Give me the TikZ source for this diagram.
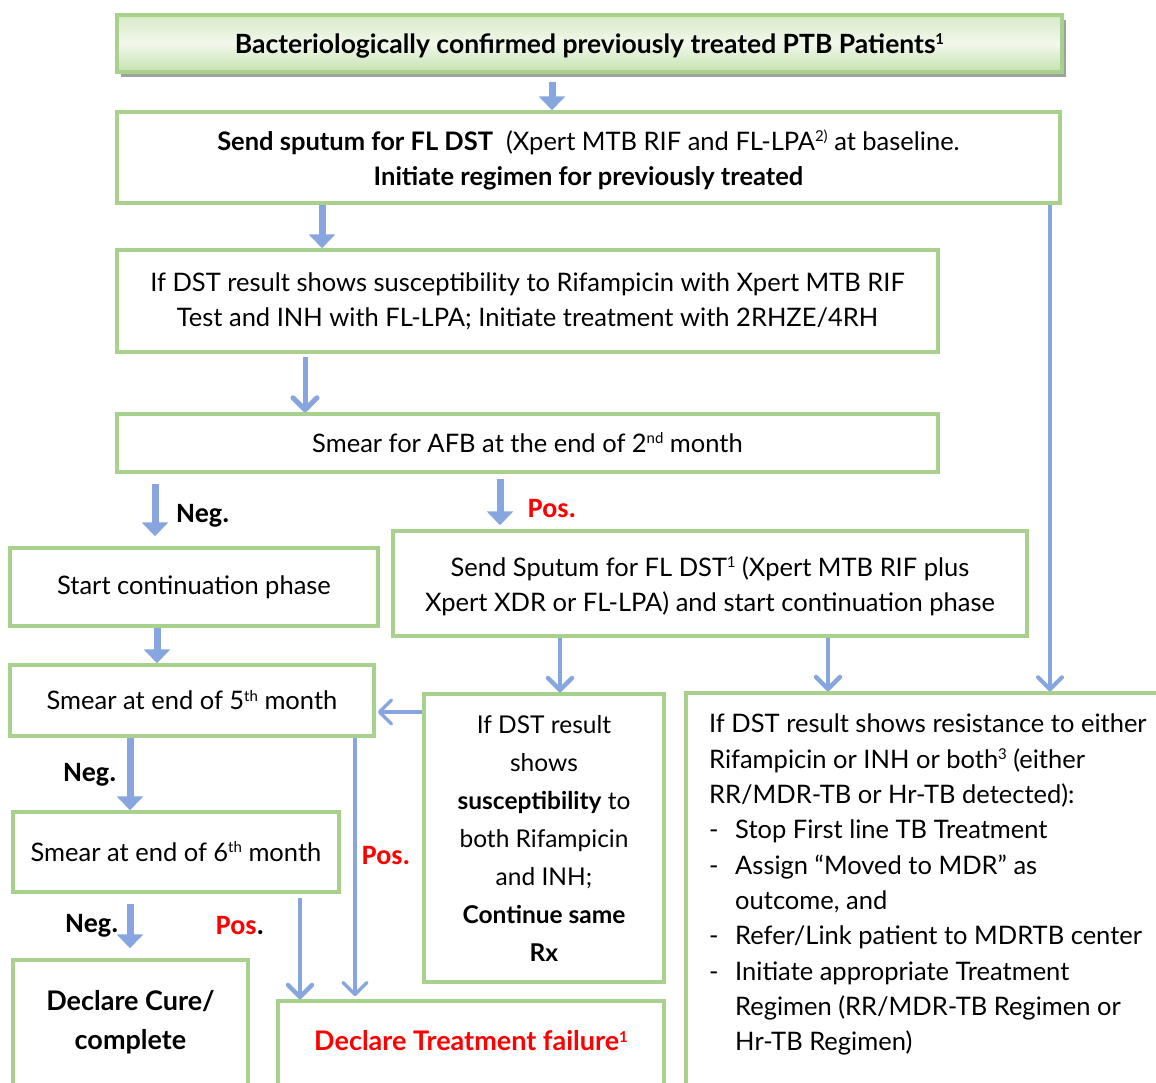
\documentclass[tikz,border=0pt]{standalone}
\usepackage{fontspec}
\setmainfont{Lato}
\newfontfamily\calib{Carlito}
\usetikzlibrary{arrows.meta,shadows}
\definecolor{boxgreen}{RGB}{169,209,142}
\definecolor{arrowblue}{RGB}{135,166,224}
\definecolor{shadowgray}{RGB}{160,160,160}
\definecolor{topgreen}{RGB}{214,234,198}
\definecolor{midgreen}{RGB}{242,248,236}
\definecolor{botgreen}{RGB}{196,226,174}
% small raised footnote marks (no effect on line height)
\newcommand\fnmark[1]{\smash{\raisebox{8.5pt}{\fontsize{15}{15}\selectfont #1}}}
\tikzset{
  box/.style={draw=boxgreen, line width=3.5pt, fill=white, inner sep=0pt,
    align=center, font=\fontsize{25.5}{35}\selectfont},
  txt/.style={inner sep=0pt, align=center, font=\fontsize{25.5}{35}\selectfont},
  fatarrow/.style={draw=arrowblue, line width=7pt,
    -{Triangle[length=14pt,width=26pt]}},
  thinarrow/.style={draw=arrowblue, line width=4.5pt,
    -{Straight Barb[length=12pt,width=24pt,round]}},
  lbl/.style={font=\calib\bfseries\fontsize{28}{30}\selectfont, inner sep=0pt},
}
\begin{document}
\begin{tikzpicture}[x=1pt,y=-1pt]
\useasboundingbox (0,0) rectangle (1156,1082);
\clip (0,0) rectangle (1156,1082);

% ---- boxes ----
\node[box, minimum width=945pt, minimum height=57pt,
  top color=topgreen, bottom color=botgreen, middle color=midgreen,
  drop shadow={shadow xshift=4pt, shadow yshift=-5pt, fill=shadowgray, opacity=1},
  font=\bfseries\fontsize{26.5}{35}\selectfont, text height=25pt, text depth=5.5pt]
  (top) at (589.5,43.5)
  {Bacteriologically confirmed previously treated PTB Patients\fnmark{1}};

\node[box, minimum width=943pt, minimum height=91pt] (b2) at (588.5,157.5)
  {\rule{0pt}{25pt}\textbf{Send sputum for FL DST}\ \ (Xpert MTB RIF and FL-LPA\fnmark{2)} at baseline.\\
   \textbf{Initiate regimen for previously treated}};

\node[box, minimum width=821pt, minimum height=102pt] (b3) at (527.5,301)
  {If DST result shows susceptibility to Rifampicin with Xpert MTB RIF\\
   Test and INH with FL-LPA; Initiate treatment with 2RHZE/4RH};

\node[box, minimum width=821pt, minimum height=58pt] (b4) at (527.5,443)
  {Smear for AFB at the end of 2\fnmark{nd} month};

\node[box, minimum width=368pt, minimum height=78pt] (b5) at (194,587)
  {Start continuation phase};

\node[box, minimum width=634pt, minimum height=105pt] (b6) at (710,583.5)
  {\rule{0pt}{25pt}Send Sputum for FL DST\fnmark{1} (Xpert MTB RIF plus\\
   Xpert XDR or FL-LPA) and start continuation phase};

\node[box, minimum width=364pt, minimum height=71pt] (b7) at (192,700.5)
  {Smear at end of 5\fnmark{th} month};

\node[box, minimum width=240pt, minimum height=288pt,
  font=\fontsize{24.5}{38}\selectfont] (b8) at (544,838)
  {If DST result\\ shows\\ \textbf{susceptibility} to\\ both Rifampicin\\ and INH;\\
   \textbf{Continue same}\\ \textbf{Rx}};

\node[box, minimum width=494pt, minimum height=417pt] (b9) at (933,901.5) {};
\node[txt, anchor=north west, align=left, font=\fontsize{25.5}{35.3}\selectfont]
  (b9text) at (709,714)
  {If DST result shows resistance to either\\
   Rifampicin or INH or both\fnmark{3} (either\\
   RR/MDR-TB or Hr-TB detected):\\
   \makebox[26pt][l]{-}Stop First line TB Treatment\\
   \makebox[26pt][l]{-}Assign ``Moved to MDR'' as\\
   \hspace*{26pt}outcome, and\\
   \makebox[26pt][l]{-}Refer/Link patient to MDRTB center\\
   \makebox[26pt][l]{-}Initiate appropriate Treatment\\
   \hspace*{26pt}Regimen (RR/MDR-TB Regimen or\\
   \hspace*{26pt}Hr-TB Regimen)};

\node[box, minimum width=326pt, minimum height=80pt] (b10) at (176,852)
  {Smear at end of 6\fnmark{th} month};

\node[box, minimum width=235pt, minimum height=150pt] (b11) at (130.5,1035) {};
\node[txt, font=\bfseries\fontsize{27}{39}\selectfont] (b11text) at (130.5,1022)
  {Declare Cure/\\complete};

\node[box, minimum width=386pt, minimum height=110pt] (b12) at (471,1056) {};
\node[txt, font=\bfseries\fontsize{27}{35}\selectfont, text=red] (b12text) at (471,1041)
  {Declare Treatment failure\fnmark{1}};

% ---- connectors ----
\draw[fatarrow, shorten <=8pt] (top.south -| 552,0) -- (b2.north -| 552,0);
\draw[fatarrow] (b2.south -| 322,0) -- (b3.north -| 322,0);
\draw[thinarrow, line width=5pt, shorten <=3pt] (b3.south -| 305,0) -- (b4.north -| 305,0);
\draw[fatarrow, shorten <=10pt, shorten >=10pt] (b4.south -| 155,0) -- (b5.north -| 155,0);
\draw[fatarrow, shorten <=5pt, shorten >=4pt] (b4.south -| 500,0) -- (b6.north -| 500,0);
\draw[fatarrow] (b5.south -| 157,0) -- (b7.north -| 157,0);
\draw[thinarrow] (b6.south -| 560,0) -- (b8.north -| 560,0);
\draw[thinarrow] (b6.south -| 828,0) -- (b9.north -| 828,0);
\draw[thinarrow, line width=4pt] (b2.south -| 1050,0) -- (b9.north -| 1050,0);
\draw[thinarrow, line width=3.5pt, shorten >=2pt] (b8.west |- 0,712) -- (b7.east |- 0,712);
\draw[fatarrow] (b7.south -| 130,0) -- (b10.north -| 130,0);
\draw[thinarrow, line width=3.5pt, shorten >=3pt] (b7.south -| 355,0) -- (b12.north -| 355,0);
\draw[fatarrow, shorten <=10pt, shorten >=10pt] (b10.south -| 130,0) -- (b11.north -| 130,0);
\draw[thinarrow, shorten <=4pt] (b10.south -| 300,0) -- (b12.north -| 300,0);

% ---- branch labels ----
\node[lbl] (neg1) at (203,516) {Neg.};
\node[lbl, text=red] (pos1) at (552,509) {Pos.};
\node[lbl] (neg2) at (90,775) {Neg.};
\node[lbl, text=red] (pos2) at (386,856) {Pos.};
\node[lbl] (neg3) at (92,926) {Neg.};
\node[lbl] (pos3) at (240,926) {\textcolor{red}{Pos}.};
\end{tikzpicture}
\end{document}
